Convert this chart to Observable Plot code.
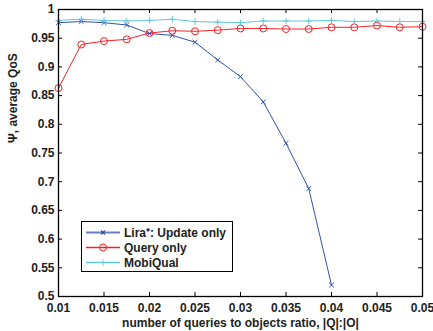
<!DOCTYPE html>
<html><head><meta charset="utf-8">
<script src="https://cdn.jsdelivr.net/npm/d3@7"></script>
<script src="https://cdn.jsdelivr.net/npm/@observablehq/plot@0.6"></script>
<style>
body{margin:0;background:#fff;}
#wrap{position:relative;width:433px;height:331px;font-family:"Liberation Sans",Arial,sans-serif;}
#legend{position:absolute;left:81px;top:221px;width:152px;height:51px;border:1.5px solid #000;background:#fff;box-sizing:border-box;font-weight:bold;font-size:12px;color:#222;}
#legend .row{position:absolute;left:0;height:15px;display:flex;align-items:center;white-space:nowrap;}
#legend svg{display:block;margin-left:4px;margin-right:4px;}
</style></head><body><div id="wrap"></div>
<script>
const ratios = [0.01,0.0125,0.015,0.0175,0.02,0.0225,0.025,0.0275,0.03,0.0325,0.035,0.0375,0.04,0.0425,0.045,0.0475,0.05];
const liraUpdateOnly = [0.977,0.979,0.977,0.973,0.958,0.955,0.943,0.912,0.883,0.839,0.767,0.688,0.520];
const queryOnly = [0.863,0.939,0.945,0.948,0.959,0.963,0.962,0.964,0.967,0.967,0.966,0.966,0.969,0.969,0.972,0.969,0.970];
const mobiQual = [0.981,0.983,0.981,0.980,0.981,0.983,0.979,0.978,0.977,0.980,0.980,0.980,0.981,0.979,0.980,0.979,0.979];
const xTicks = [0.01,0.015,0.02,0.025,0.03,0.035,0.04,0.045,0.05];
const yTicks = [0.5,0.55,0.6,0.65,0.7,0.75,0.8,0.85,0.9,0.95,1];
const seriesNames = ["Lira\u207A: Update only","Query only","MobiQual"];
const seriesColors = ["#3553ae","#f4232b","#62c8de"];
const seriesSymbols = ["times","circle","plus"];
const xLabel = "number of queries to objects ratio, |Q|:|O|";
const yLabel = "\u03A8, average QoS";

const seriesValues = [liraUpdateOnly, queryOnly, mobiQual];
const data = seriesValues.flatMap((vals, i) => vals.map((v, j) => ({x: ratios[j], y: v, s: seriesNames[i]})));
const fmt = d => String(+d.toFixed(4));

const W = 433, H = 331, mL = 58, mR = 11, mT = 9, mB = 35;
const pw = W - mL - mR, ph = H - mT - mB, tk = 4;

const chart = Plot.plot({
  width: W, height: H,
  marginLeft: mL, marginRight: mR, marginTop: mT, marginBottom: mB,
  style: {fontFamily: '"Liberation Sans", Arial, sans-serif', fontSize: "12px", fontWeight: "bold", color: "#222", background: "#fff"},
  x: {domain: [0.01, 0.05]},
  y: {domain: [0.5, 1]},
  color: {domain: seriesNames, range: seriesColors},
  symbol: {domain: seriesNames, range: seriesSymbols},
  marks: [
    Plot.axisX(xTicks, {anchor: "bottom", tickSize: 0, tickPadding: 7, tickFormat: fmt, label: null}),
    Plot.axisY(yTicks, {anchor: "left", tickSize: 0, tickPadding: 4, tickFormat: fmt, label: null}),
    Plot.text([xLabel], {frameAnchor: "bottom", dy: 27, text: d => d, lineAnchor: "middle"}),
    Plot.text([yLabel], {frameAnchor: "left", rotate: -90, dx: -45, dy: -10, text: d => d, lineAnchor: "middle"}),
    Plot.tickX(xTicks, {x: d => d, insetTop: ph - tk, stroke: "#000"}),
    Plot.tickX(xTicks, {x: d => d, insetBottom: ph - tk, stroke: "#000"}),
    Plot.tickY(yTicks, {y: d => d, insetLeft: pw - tk, stroke: "#000"}),
    Plot.tickY(yTicks, {y: d => d, insetRight: pw - tk, stroke: "#000"}),
    Plot.line(data, {x: "x", y: "y", z: "s", stroke: "s", strokeWidth: 1}),
    Plot.dot(data.filter(d => d.s === seriesNames[0]), {x: "x", y: "y", symbol: "s", stroke: "s", r: 2.3, strokeWidth: 1}),
    Plot.dot(data.filter(d => d.s === seriesNames[1]), {x: "x", y: "y", symbol: "s", stroke: "s", r: 3.5, strokeWidth: 1}),
    Plot.dot(data.filter(d => d.s === seriesNames[2]), {x: "x", y: "y", symbol: "s", stroke: "s", r: 2.2, strokeWidth: 1}),
    Plot.frame({stroke: "#000", strokeWidth: 1.3})
  ]
});
const wrap = document.getElementById("wrap");
wrap.appendChild(chart);

// legend
const legend = document.createElement("div");
legend.id = "legend";
seriesNames.forEach((name, i) => {
  const row = document.createElement("div");
  row.className = "row";
  row.style.top = (3 + i * 15) + "px";
  const c = seriesColors[i];
  let marker;
  if (seriesSymbols[i] === "times") marker = `<path d="M15,5.5L19,9.5M15,9.5L19,5.5" stroke="${c}" stroke-width="1.2"/>`;
  else if (seriesSymbols[i] === "circle") marker = `<circle cx="17" cy="7.5" r="3.5" fill="none" stroke="${c}" stroke-width="1"/>`;
  else marker = `<path d="M17,4.3V10.7M13.8,7.5H20.2" stroke="${c}" stroke-width="1"/>`;
  row.innerHTML = `<svg width="34" height="15"><line x1="0" x2="34" y1="7.5" y2="7.5" stroke="${c}" stroke-width="${i===0?2:1.3}" stroke-opacity="${i===0?0.75:1}"/>${marker}</svg><span>${name}</span>`;
  legend.appendChild(row);
});
wrap.appendChild(legend);
</script></body></html>
